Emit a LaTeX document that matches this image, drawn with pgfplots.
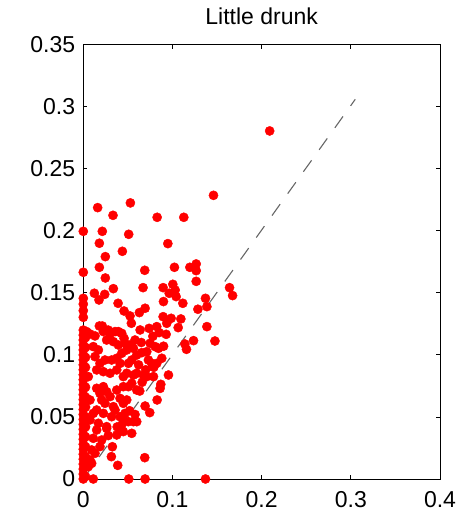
\documentclass[border=0pt]{standalone}
\usepackage{fontspec}
\setmainfont{Liberation Sans}
\usepackage{pgfplots}
\pgfplotsset{compat=1.18}
\usepackage{pgfplotstable}

% Scatter of pairs (x, y)
\pgfplotstableread{
x y
0.209 0.2805
0.146 0.2286
0.0528 0.2225
0.0161 0.2187
0.0333 0.2125
0.0828 0.2109
0.1127 0.2109
0 0.1996
0.0213 0.1996
0.0509 0.1972
0.018 0.19
0.0948 0.1897
0.0438 0.1835
0.0247 0.1792
0 0.1666
0.018 0.1706
0.0689 0.1682
0.1022 0.1706
0.1195 0.1706
0.1266 0.1733
0.1266 0.1679
0.0247 0.162
0.1266 0.1593
0.0337 0.1534
0.067 0.1542
0.0895 0.1542
0.1004 0.1569
0.103 0.1523
0.0963 0.1497
0.1041 0.147
0.164 0.1542
0.1674 0.1478
0.0124 0.1497
0.024 0.1488
0.0176 0.1443
0.039 0.1416
0.0899 0.143
0.1116 0.1416
0.137 0.1456
0.1386 0.1389
0.1285 0.1368
0.0457 0.1354
0.0629 0.1341
0.0693 0.1376
0.0524 0.1314
0.0539 0.1255
0.0895 0.1308
0.0985 0.1295
0.1094 0.129
0.0936 0.1255
0.1064 0.122
0.1386 0.1228
0.0637 0.1201
0.0738 0.1214
0.0824 0.1228
0.0929 0.1166
0.1476 0.1112
0.1236 0.1115
0.1139 0.1088
0.1157 0.1045
0 0.1456
0 0.141
0 0.1357
0 0.1303
0.0112 0
0.051 0
0.0693 0
0.137 0
0.0689 0.0172
0.0386 0.011
0.0315 0.018
0.0326 0.026
0.0828 0.0637
0.0745 0.0535
0.0693 0.0588
0.0633 0.0709
0.0861 0.073
0.0869 0.0763
0.0955 0.0838
0.088 0.0973
0.0075 0.1169
0.0131 0.1153
0.0225 0.1188
0.0300 0.1169
0.0356 0.1188
0.0431 0.1174
0.0457 0.1134
0.0262 0.1120
0.0337 0.1107
0.0393 0.1080
0.0468 0.1094
0.0524 0.1080
0.0562 0.1053
0.0487 0.1040
0.0431 0.1013
0.0599 0.0999
0.0655 0.1018
0.0712 0.1026
0.0749 0.1094
0.0805 0.1067
0.0843 0.1053
0.0730 0.0959
0.0768 0.0932
0.0824 0.0932
0.0169 0.1040
0.0131 0.0986
0.0187 0.0932
0.0243 0.0959
0.0318 0.0959
0.0375 0.0973
0.0412 0.0932
0.0506 0.0932
0.0543 0.0959
0.0112 0.1067
0.0056 0.0825
0.0150 0.0879
0.0225 0.0865
0.0300 0.0852
0.0375 0.0879
0.0449 0.0825
0.0487 0.0852
0.0562 0.0838
0.0599 0.0852
0.0674 0.0838
0.0712 0.0825
0.0787 0.0825
0.0543 0.0771
0.0449 0.0744
0.0375 0.0717
0.0225 0.0744
0.0150 0.0731
0.0187 0.0690
0.0262 0.0704
0.0300 0.0664
0.0506 0.0744
0.0599 0.0717
0.0075 0.0637
0.0206 0.0637
0.0243 0.0610
0.0412 0.0650
0.0449 0.0610
0.0487 0.0637
0.0337 0.0583
0.0356 0.0556
0.0150 0.0556
0.0112 0.0529
0.0225 0.0529
0.0412 0.0502
0.0468 0.0529
0.0506 0.0462
0.0562 0.0462
0.0599 0.0462
0.0431 0.0435
0.0318 0.0502
0.0262 0.0422
0.0169 0.0449
0.0075 0.0476
0.0150 0.0395
0.0262 0.0408
0.0375 0.0355
0.0449 0.0382
0.0543 0.0368
0.0112 0.0328
0.0206 0.0314
0.0094 0.0234
0.0187 0.0261
0.0131 0.0207
0.0075 0.0153
0.0056 0.0099
0.0094 0.0126
0.018 0.1233
0.0213 0.1233
0.028 0.1200
0.0393 0.1188
0.0037 0.1188
0.0019 0.1147
0.0650 0.1100
0.0780 0.1150
0.0850 0.1180
0.0700 0.0880
0.0620 0.0920
0.0900 0.1070
0.0580 0.1120
0.0660 0.0780
0.0790 0.0900
0.0450 0.0480
0.0520 0.0550
0.0380 0.0420
0.0280 0.0350
0.0580 0.0520
0 0.000
0 0.004
0 0.008
0 0.012
0 0.016
0 0.020
0 0.024
0 0.028
0 0.032
0 0.036
0 0.040
0 0.044
0 0.048
0 0.052
0 0.056
0 0.060
0 0.064
0 0.068
0 0.072
0 0.076
0 0.080
0 0.084
0 0.088
0 0.092
0 0.096
0 0.100
0 0.104
0 0.108
0 0.112
0 0.116
0 0.120
0.0025 0.002
0.0025 0.010
0.0025 0.018
0.0025 0.026
0.0025 0.034
0.0025 0.042
0.0025 0.050
0.0025 0.058
0.0025 0.066
0.0025 0.074
0.0025 0.082
0.0025 0.090
0.0025 0.098
0.0025 0.106
0.0025 0.114
}\drunkdata

\begin{document}
\begin{tikzpicture}[x=1bp,y=1bp]
\begin{axis}[
  at={(83.3bp,33bp)}, anchor=south west,
  scale only axis,
  width=356.7bp, height=434.3bp,
  xmin=0, xmax=0.4, ymin=0, ymax=0.35,
  xtick={0,0.1,0.2,0.3,0.4},
  xticklabels={0,0.1,0.2,0.3,0.4},
  ytick={0,0.05,0.1,0.15,0.2,0.25,0.3,0.35},
  yticklabels={0,0.05,0.1,0.15,0.2,0.25,0.3,0.35},
  tick align=inside,
  major tick length=4bp,
  axis line style={line width=0.9bp},
  every tick/.style={black, line width=0.9bp},
  ticklabel style={font=\fontsize{23bp}{27bp}\selectfont, inner sep=0pt},
  xticklabel style={anchor=north, yshift=-12bp},
  yticklabel style={anchor=east, xshift=-8bp},
  title={Little drunk},
  title style={font=\fontsize{23bp}{27bp}\selectfont, at={(0.5,1)}, anchor=base, yshift=14.7bp, inner sep=0pt},
  clip=false,
]
\addplot[only marks, mark=*, color=red, mark size=4.6bp]
  table[x=x, y=y] {\drunkdata};
\addplot[color=black!60, line width=1.1bp, dash pattern=on 14bp off 13bp]
  coordinates {(0,0) (0.305,0.306)};
\end{axis}
\pgfresetboundingbox
\path[use as bounding box] (0,0) rectangle (459bp,512bp);
\end{tikzpicture}
\end{document}
